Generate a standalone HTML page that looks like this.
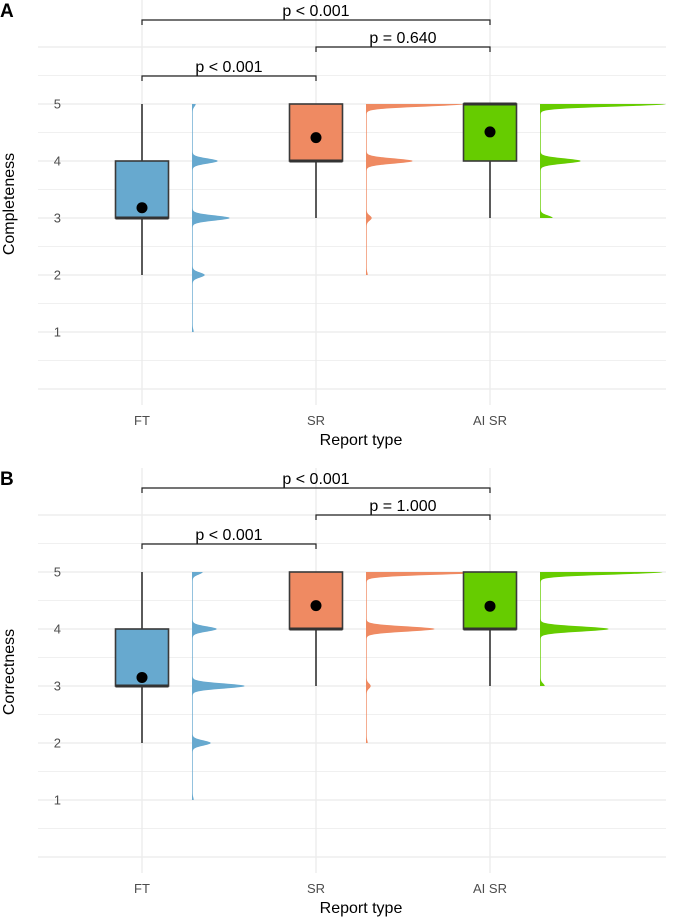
<!DOCTYPE html>
<html><head><meta charset="utf-8"><style>
html,body{margin:0;padding:0;background:#fff;}
svg{display:block;font-family:"Liberation Sans",Arial,sans-serif;}
</style></head><body>
<svg id="chart" width="685" height="918" viewBox="0 0 685 918"></svg>
<script>
const groups = ["FT","SR","AI SR"];
const colors = ["#67a9cf","#ef8a62","#66cc00"];
const levels = [1,2,3,4,5];
const panelLetters = ["A","B"];
const panelTitles = ["Completeness","Correctness"];
// box stats per panel: [whiskerLow, q1, median, q3, whiskerHigh]
const boxesA = [[2,3,3,4,5],[3,4,4,5,5],[3,4,5,5,5]];
const boxesB = [[2,3,3,4,5],[3,4,4,5,5],[3,4,4,5,5]];
const meansA = [3.18,4.41,4.51];
const meansB = [3.15,4.41,4.40];
// violin peak widths (px) at levels 1..5
const densA = [[1,12,37,25,3],[0,1,5,46,97],[0,0,12,40,125]];
const densB = [[1,18,52,24,10],[0,1,4,68,125],[0,0,4,68,122]];
const pvalsA = ["p < 0.001","p = 0.640","p < 0.001"];
const pvalsB = ["p < 0.001","p = 1.000","p < 0.001"];
const brackets = [[0,2],[1,2],[0,1]];
const yTicks = [1,2,3,4,5];

const svg = document.getElementById('chart');
const NS = "http://www.w3.org/2000/svg";
function mk(tag, attrs, parent){const e=document.createElementNS(NS,tag);for(const k in attrs)e.setAttribute(k,attrs[k]);(parent||svg).appendChild(e);return e;}
const xPos = i => 142 + i*174;

function drawPanel(p, off, boxes, means, dens, pvals){
  const y = v => off + 104 + (5 - v)*57;
  const g = mk('g',{});
  
  
  for(let v=0; v<=6.01; v+=0.5){
    const l=mk('line',{x1:38,x2:666,y1:y(v),y2:y(v),stroke:'#ebebeb','stroke-width':(v%1===0)?1.3:0.8},g);
    
    
  }
  groups.forEach((n,i)=>{
    const l=mk('line',{x1:xPos(i),x2:xPos(i),y1:off,y2:off+405,stroke:'#ebebeb','stroke-width':1.3},g);
    
    
  });
  groups.forEach((n,i)=>{
    const x0 = xPos(i)+50;
    const lo = Math.min(...levels.filter((l,k)=>dens[i][k]>0));
    let d = `M${x0},${y(lo)}`;
    for(let v=lo; v<=5.0001; v+=0.005){
      let w=0.7;
      levels.forEach((l,k)=>{const s=0.045;w+=dens[i][k]*Math.exp(-Math.pow((v-l)/s,2)/2);});
      d += ` L${x0+w},${y(v)}`;
    }
    d += ` L${x0},${y(5)} Z`;
    const e=mk('path',{d:d,fill:colors[i]},g);
    
    
  });
  groups.forEach((n,i)=>{
    const b=boxes[i], x=xPos(i);
    const w1=mk('line',{x1:x,x2:x,y1:y(b[0]),y2:y(b[1]),stroke:'#333','stroke-width':1.6},g);
    
    
    const w2=mk('line',{x1:x,x2:x,y1:y(b[4]),y2:y(b[3]),stroke:'#333','stroke-width':1.6},g);
    
    
    const r=mk('rect',{x:x-26.5,y:y(b[3]),width:53,height:y(b[1])-y(b[3]),fill:colors[i],stroke:'#3a3a3a','stroke-width':1.6},g);
    
    
    const m=mk('line',{x1:x-26.5,x2:x+26.5,y1:y(b[2]),y2:y(b[2]),stroke:'#333','stroke-width':3},g);
    
    
    const c=mk('circle',{cx:x,cy:y(means[i]),r:5.5,fill:'#000'},g);
    
    
  });
  const by=[off+20,off+47,off+76];
  brackets.forEach((br,k)=>{
    const x1=xPos(br[0]),x2=xPos(br[1]),yy=by[k];
    const e=mk('path',{d:`M${x1},${yy+5}V${yy}H${x2}V${yy+5}`,fill:'none',stroke:'#222','stroke-width':1.2},g);
    
    
    const t=mk('text',{x:(x1+x2)/2,y:yy-4,'text-anchor':'middle','font-size':16,fill:'#000'},g);
    t.textContent=pvals[k];
    
    
  });
  yTicks.forEach(v=>{
    const t=mk('text',{x:61,y:y(v)+4.5,'text-anchor':'end','font-size':13,fill:'#4d4d4d'},g);
    t.textContent=v;
    
    
  });
  groups.forEach((n,i)=>{
    const t=mk('text',{x:xPos(i),y:off+425,'text-anchor':'middle','font-size':13,fill:'#4d4d4d'},g);
    t.textContent=n;
    
    
  });
  const xt=mk('text',{x:361,y:off+445,'text-anchor':'middle','font-size':16,fill:'#000'},g);
  xt.textContent='Report type';
  
  
  const yt=mk('text',{x:0,y:0,'text-anchor':'middle','font-size':16,fill:'#000',transform:`translate(14,${off+204}) rotate(-90)`},g);
  yt.textContent=panelTitles[p];
  
  
  const pl=mk('text',{x:0,y:off+17,'font-size':19,'font-weight':'bold',fill:'#000'},g);
  pl.textContent=panelLetters[p];
  
  
}
drawPanel(0,0,boxesA,meansA,densA,pvalsA);
drawPanel(1,468,boxesB,meansB,densB,pvalsB);
</script>
</body></html>
